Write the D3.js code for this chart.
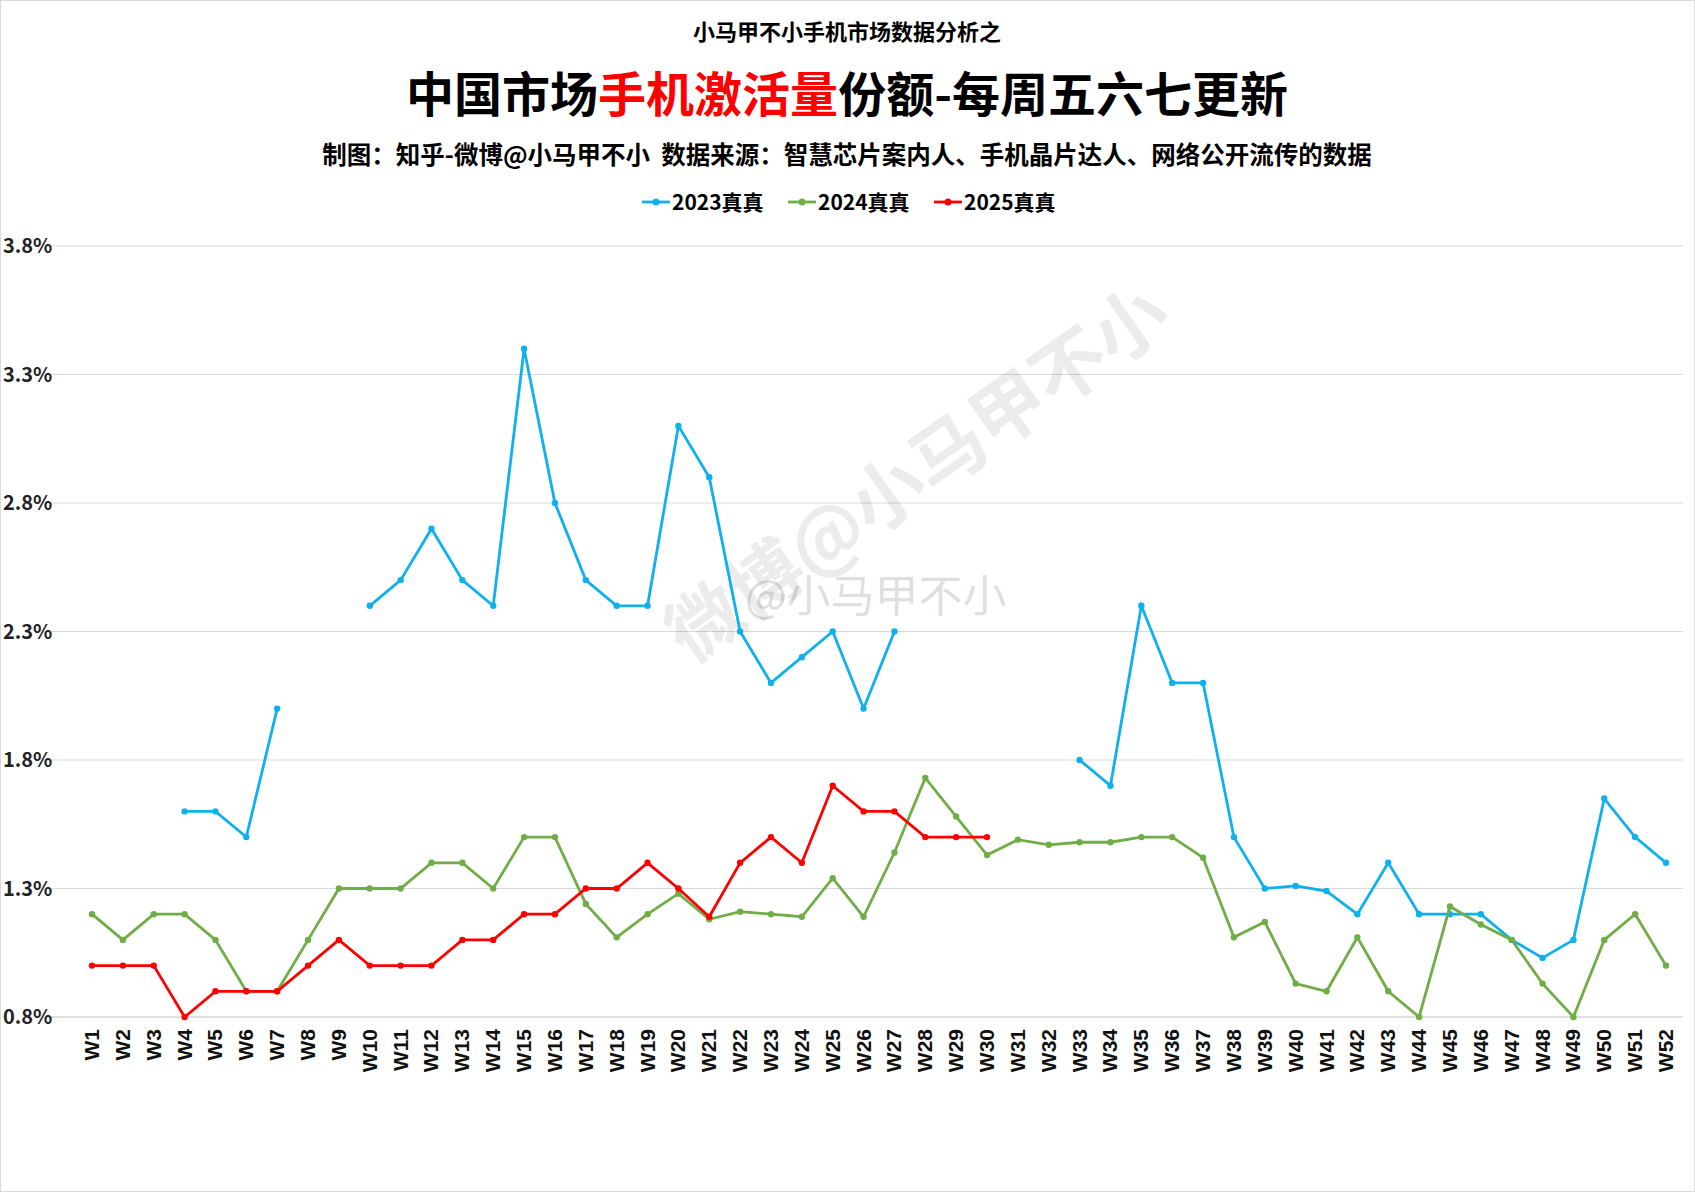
<!DOCTYPE html>
<html><head><meta charset="utf-8">
<script src="https://cdn.jsdelivr.net/npm/d3@7"></script>
<style>body{margin:0;background:#fff;font-family:"Noto Sans CJK SC","Noto Sans",sans-serif;} text{white-space:pre;}</style>
</head><body><svg id="chart" width="1695" height="1192"></svg>
<script>
// weeks and series (percent), null = no data
var weeks = d3.range(1, 53).map(function(i){ return "W" + i; });
var s2023 = [null,null,null,1.6,1.6,1.5,2.0,null,null,2.4,2.5,2.7,2.5,2.4,3.4,2.8,2.5,2.4,2.4,3.1,2.9,2.3,2.1,2.2,2.3,2.0,2.3,null,null,null,null,null,1.8,1.7,2.4,2.1,2.1,1.5,1.3,1.31,1.29,1.2,1.4,1.2,1.2,1.2,1.1,1.03,1.1,1.65,1.5,1.4];
var s2024 = [1.2,1.1,1.2,1.2,1.1,0.9,0.9,1.1,1.3,1.3,1.3,1.4,1.4,1.3,1.5,1.5,1.24,1.11,1.2,1.28,1.18,1.21,1.2,1.19,1.34,1.19,1.44,1.73,1.58,1.43,1.49,1.47,1.48,1.48,1.5,1.5,1.42,1.11,1.17,0.93,0.9,1.11,0.9,0.8,1.23,1.16,1.1,0.93,0.8,1.1,1.2,1.0];
var s2025 = [1.0,1.0,1.0,0.8,0.9,0.9,0.9,1.0,1.1,1.0,1.0,1.0,1.1,1.1,1.2,1.2,1.3,1.3,1.4,1.3,1.19,1.4,1.5,1.4,1.7,1.6,1.6,1.5,1.5,1.5];
var yTicks = [0.8,1.3,1.8,2.3,2.8,3.3,3.8];
var seriesNames = ["2023真真","2024真真","2025真真"];
var seriesColors = ["#0eb0ee","#70ad47","#ff0000"];

var svg = d3.select("#chart");
svg.append("rect").attr("x",0.5).attr("y",0.5).attr("width",1694).attr("height",1191).attr("fill","#fff").attr("stroke","#d9d9d9");

var mLeft = 46, mRight = 1683, mTop = 246, mBottom = 1017;
var x = d3.scalePoint().domain(weeks).range([92, 1666]);
var y = d3.scaleLinear().domain([0.8, 3.8]).range([mBottom, mTop]);

// grid
svg.append("g").selectAll("line").data(yTicks.slice(1)).join("line")
  .attr("x1", mLeft).attr("x2", mRight).attr("y1", function(d){return y(d);}).attr("y2", function(d){return y(d);})
  .attr("stroke","#d9d9d9").attr("stroke-width",1);
svg.append("line").attr("x1",mLeft).attr("x2",mRight).attr("y1",mBottom).attr("y2",mBottom).attr("stroke","#bfbfbf");

svg.append("g").selectAll("text").data(yTicks).join("text")
  .attr("x", 3).attr("y", function(d){return y(d) + 7;})
  .attr("font-size", 20).attr("font-weight","bold").attr("fill","#222")
  .text(function(d){ return d.toFixed(1) + "%"; });

svg.append("g").selectAll("text").data(weeks).join("text")
  .attr("transform", function(d){ return "translate(" + (x(d) + 7) + "," + (mBottom + 12) + ") rotate(-90)"; })
  .attr("text-anchor","end").attr("font-size", 21).attr("font-weight","bold").attr("fill","#111")
  .attr("font-family","Liberation Sans, Arial, sans-serif")
  .text(function(d){ return d; });

// watermark
svg.append("text").attr("transform","translate(690,665) rotate(-35)")
  .attr("font-size",74).attr("font-weight","bold").attr("fill","#000").attr("opacity",0.07).text("微博@小马甲不小");
svg.append("text").attr("x",745).attr("y",612).attr("font-size",44).attr("fill","#000").attr("opacity",0.12).text("@小马甲不小");

var line = d3.line().defined(function(d){return d != null;})
  .x(function(d,i){return x(weeks[i]);}).y(function(d){return y(d);});

[s2023, s2024, s2025].forEach(function(s, k) {
  var g = svg.append("g");
  g.append("path").datum(s).attr("d", line).attr("fill","none").attr("stroke", seriesColors[k]).attr("stroke-width", 2.8);
  g.selectAll("circle").data(s.map(function(v,i){return {v:v,i:i};}).filter(function(d){return d.v != null;}))
    .join("circle").attr("cx", function(d){return x(weeks[d.i]);}).attr("cy", function(d){return y(d.v);})
    .attr("r", 3.2).attr("fill", seriesColors[k]);
});

// titles
svg.append("text").attr("x",847).attr("y",40).attr("text-anchor","middle").attr("font-size",22).attr("font-weight","bold").text("小马甲不小手机市场数据分析之");
var t = svg.append("text").attr("x",847).attr("y",112).attr("text-anchor","middle").attr("font-size",48).attr("font-weight","bold");
t.append("tspan").text("中国市场");
t.append("tspan").attr("fill","#ff0000").text("手机激活量");
t.append("tspan").text("份额-每周五六七更新");
svg.append("text").attr("x",847).attr("y",164).attr("text-anchor","middle").attr("font-size",24.5).attr("font-weight","bold").text("制图：知乎-微博@小马甲不小  数据来源：智慧芯片案内人、手机晶片达人、网络公开流传的数据");

// legend
var lx = [642, 788, 934];
seriesNames.forEach(function(n, k) {
  var g = svg.append("g").attr("transform","translate(" + lx[k] + ",202)");
  g.append("line").attr("x1",0).attr("x2",28).attr("stroke",seriesColors[k]).attr("stroke-width",2.8);
  g.append("circle").attr("cx",14).attr("r",3.5).attr("fill",seriesColors[k]);
  g.append("text").attr("x",30).attr("y",8).attr("font-size",21).attr("font-weight","bold").text(n);
});
</script></body></html>
